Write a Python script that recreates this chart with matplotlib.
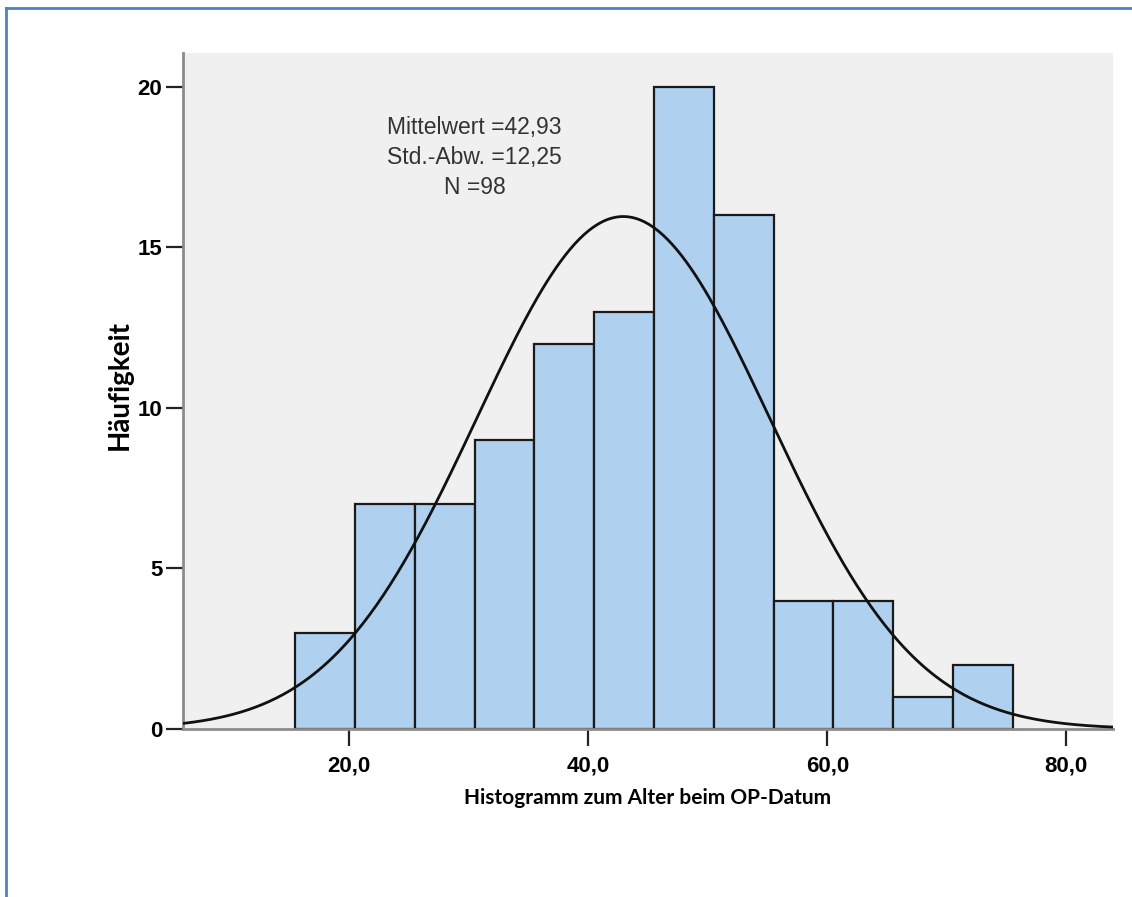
import numpy as np
import matplotlib
matplotlib.use('Agg')
import matplotlib.pyplot as plt
from matplotlib.lines import Line2D

# Histogram of age at surgery date (SPSS style)
bin_edges = [15.5, 20.5, 25.5, 30.5, 35.5, 40.5, 45.5, 50.5, 55.5, 60.5, 65.5, 70.5, 75.5]
counts = [3, 7, 7, 9, 12, 13, 20, 16, 4, 4, 1, 2]
mean = 42.93
std = 12.25
n = 98
xticks = [20, 40, 60, 80]
xtick_labels = ['20,0', '40,0', '60,0', '80,0']
yticks = [0, 5, 10, 15, 20]

fig = plt.figure(figsize=(11.32, 8.97), dpi=100)
ax = fig.add_axes([0.1617, 0.1873, 0.9832 - 0.1617, 0.9409 - 0.1873])
ax.set_facecolor('#f0f0f0')

widths = np.diff(bin_edges)
ax.bar(bin_edges[:-1], counts, width=widths, align='edge',
       color='#afd1ef', edgecolor='#1a1a1a', linewidth=1.6, zorder=2)

# normal curve scaled to counts
bw = widths[0]
xs = np.linspace(6.1, 83.9, 400)
ys = n * bw / (std * np.sqrt(2 * np.pi)) * np.exp(-0.5 * ((xs - mean) / std) ** 2)
ax.plot(xs, ys, color='#111111', linewidth=2, zorder=3)

ax.set_xlim(6.1, 83.9)
ax.set_ylim(0, 21.05)
ax.set_xticks(xticks)
ax.set_xticklabels(xtick_labels)
ax.set_yticks(yticks)

for s in ['top', 'right']:
    ax.spines[s].set_visible(False)
for s in ['left', 'bottom']:
    ax.spines[s].set_color('#8c8c8c')
    ax.spines[s].set_linewidth(2)

ax.tick_params(axis='both', direction='out', length=12, width=1.6, color='#222222',
               labelsize=16)
ax.tick_params(axis='x', pad=7)
ax.tick_params(axis='y', pad=3)
for lab in ax.get_xticklabels() + ax.get_yticklabels():
    lab.set_family('Liberation Sans')
    lab.set_fontweight('bold')

ax.set_xlabel('Histogramm zum Alter beim OP-Datum', family='Lato', fontweight='bold',
              fontsize=15)
ax.xaxis.set_label_coords(0.5, -0.088)
ax.set_ylabel('Häufigkeit', family='Lato', fontweight='bold', fontsize=20)
ax.yaxis.set_label_coords(-0.054, 0.509)

ax.text(30.5, 17.8, 'Mittelwert =42,93\nStd.-Abw. =12,25\nN =98', ha='center', va='center',
        family='Liberation Sans', fontsize=16.5, color='#333333', linespacing=1.39)

# blue frame at the top and left of the image
fig.add_artist(Line2D([0.0053, 0.0053], [0, 0.991], color='#4f81bd', linewidth=2))
fig.add_artist(Line2D([0.0053, 0.999], [0.991, 0.991], color='#4f81bd', linewidth=2))

fig.savefig('out.png', dpi=100)
